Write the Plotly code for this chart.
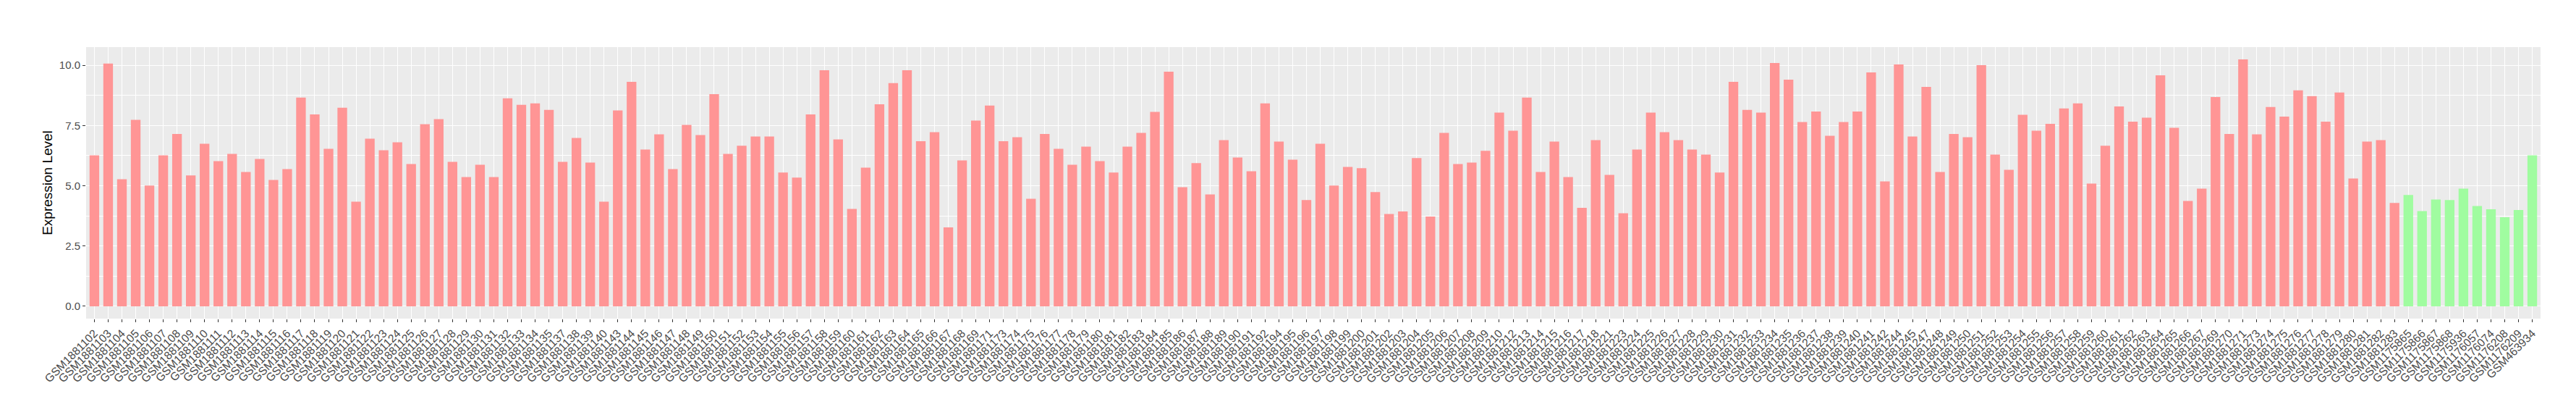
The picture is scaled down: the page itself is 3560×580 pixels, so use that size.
import plotly.graph_objects as go

red_ids = [1102,1103,1104,1105,1106,1107,1108,1109,1110,1111,1112,1113,1114,1115,1116,1117,1118,1119,1120,1121,
           1122,1123,1124,1125,1126,1127,1128,1129,1130,1131,1132,1133,1134,1135,1137,1138,1139,1140,1143,1144,
           1145,1146,1147,1148,1149,1150,1151,1152,1153,1154,1155,1156,1157,1158,1159,1160,1161,1162,1163,1164,
           1165,1166,1167,1168,1169,1171,1173,1174,1175,1176,1177,1178,1179,1180,1181,1182,1183,1184,1185,1186,
           1187,1188,1189,1190,1191,1192,1194,1195,1196,1197,1198,1199,1200,1201,1202,1203,1204,1205,1206,1207,
           1208,1209,1210,1212,1213,1214,1215,1216,1217,1218,1221,1223,1224,1225,1226,1227,1228,1229,1230,1231,
           1232,1233,1234,1235,1236,1237,1238,1239,1240,1241,1242,1244,1245,1247,1248,1249,1250,1251,1252,1253,
           1254,1255,1256,1257,1258,1259,1260,1261,1262,1263,1264,1265,1266,1267,1269,1270,1271,1273,1274,1275,
           1276,1277,1278,1279,1280,1281,1282,1283]
red_labels = ["GSM188" + str(i) for i in red_ids]
red_values = [6.26,10.07,5.27,7.73,5.01,6.26,7.15,5.43,6.74,6.02,6.32,5.57,6.11,5.24,5.69,8.66,7.96,6.53,8.24,4.34,
              6.95,6.47,6.80,5.90,7.55,7.76,5.99,5.36,5.87,5.36,8.63,8.36,8.42,8.15,5.99,6.98,5.96,4.34,8.12,9.31,
              6.50,7.13,5.69,7.52,7.10,8.80,6.32,6.66,7.04,7.04,5.55,5.34,7.96,9.79,6.92,4.04,5.75,8.38,9.26,9.79,
              6.85,7.22,3.27,6.05,7.70,8.33,6.85,7.01,4.46,7.15,6.53,5.87,6.62,6.02,5.55,6.62,7.19,8.06,9.73,4.94,
              5.94,4.64,6.89,6.17,5.60,8.42,6.83,6.08,4.41,6.74,5.01,5.78,5.73,4.74,3.83,3.93,6.15,3.72,7.19,5.90,
              5.96,6.45,8.03,7.28,8.66,5.57,6.83,5.36,4.08,6.89,5.45,3.86,6.50,8.03,7.22,6.89,6.50,6.29,5.55,9.31,
              8.15,8.03,10.09,9.40,7.64,8.08,7.07,7.64,8.08,9.70,5.18,10.03,7.04,9.10,5.57,7.15,7.01,10.00,6.29,5.66,
              7.94,7.28,7.57,8.21,8.42,5.09,6.66,8.29,7.66,7.82,9.58,7.40,4.37,4.88,8.68,7.15,10.24,7.13,8.27,7.87,
              8.96,8.72,7.66,8.87,5.30,6.83,6.89,4.29]

green_labels = ["GSM1175865","GSM1175866","GSM1175867","GSM1175868","GSM1175936","GSM1176057",
                "GSM1176074","GSM1176208","GSM1176209","GSM463934"]
green_values = [4.62,3.95,4.43,4.41,4.88,4.16,4.02,3.69,3.99,6.26]

red_color = "#FF9595"
green_color = "#A0FCA0"

categories = red_labels + green_labels
values = red_values + green_values
colors = [red_color] * len(red_labels) + [green_color] * len(green_labels)

fig = go.Figure()
fig.add_trace(go.Bar(x=categories, y=values, marker=dict(color=colors, line=dict(width=0)),
                     showlegend=False))

ymax = max(values)
fig.update_layout(
    width=3560, height=580,
    margin=dict(l=111, r=57, t=57, b=148),
    paper_bgcolor="white", plot_bgcolor="#EBEBEB",
    bargap=0.3,
    font=dict(family="Liberation Sans, Arial, sans-serif"),
)
fig.update_xaxes(
    type="category", categoryorder="array", categoryarray=categories,
    range=[-0.6, len(categories) - 0.4],
    tickangle=-45, tickfont=dict(size=15.7, color="#4D4D4D"),
    showgrid=True, gridcolor="white", gridwidth=1.1,
    ticks="outside", ticklen=4, tickcolor="#333333", tickwidth=1,
    showline=False, zeroline=False,
)
fig.update_yaxes(
    range=[-0.05 * ymax, 1.05 * ymax],
    tickvals=[0, 2.5, 5, 7.5, 10], ticktext=["0.0", "2.5", "5.0", "7.5", "10.0"],
    tickfont=dict(size=15, color="#4D4D4D"),
    showgrid=True, gridcolor="white", gridwidth=1.1,
    minor=dict(tickvals=[1.25, 3.75, 6.25, 8.75], showgrid=True, gridcolor="white", gridwidth=0.5),
    ticks="outside", ticklen=4, tickcolor="#333333", tickwidth=1,
    zeroline=False, showline=False,
    title=dict(text="Expression Level", font=dict(size=19, color="black"), standoff=4),
)

fig.write_html("out.html")
